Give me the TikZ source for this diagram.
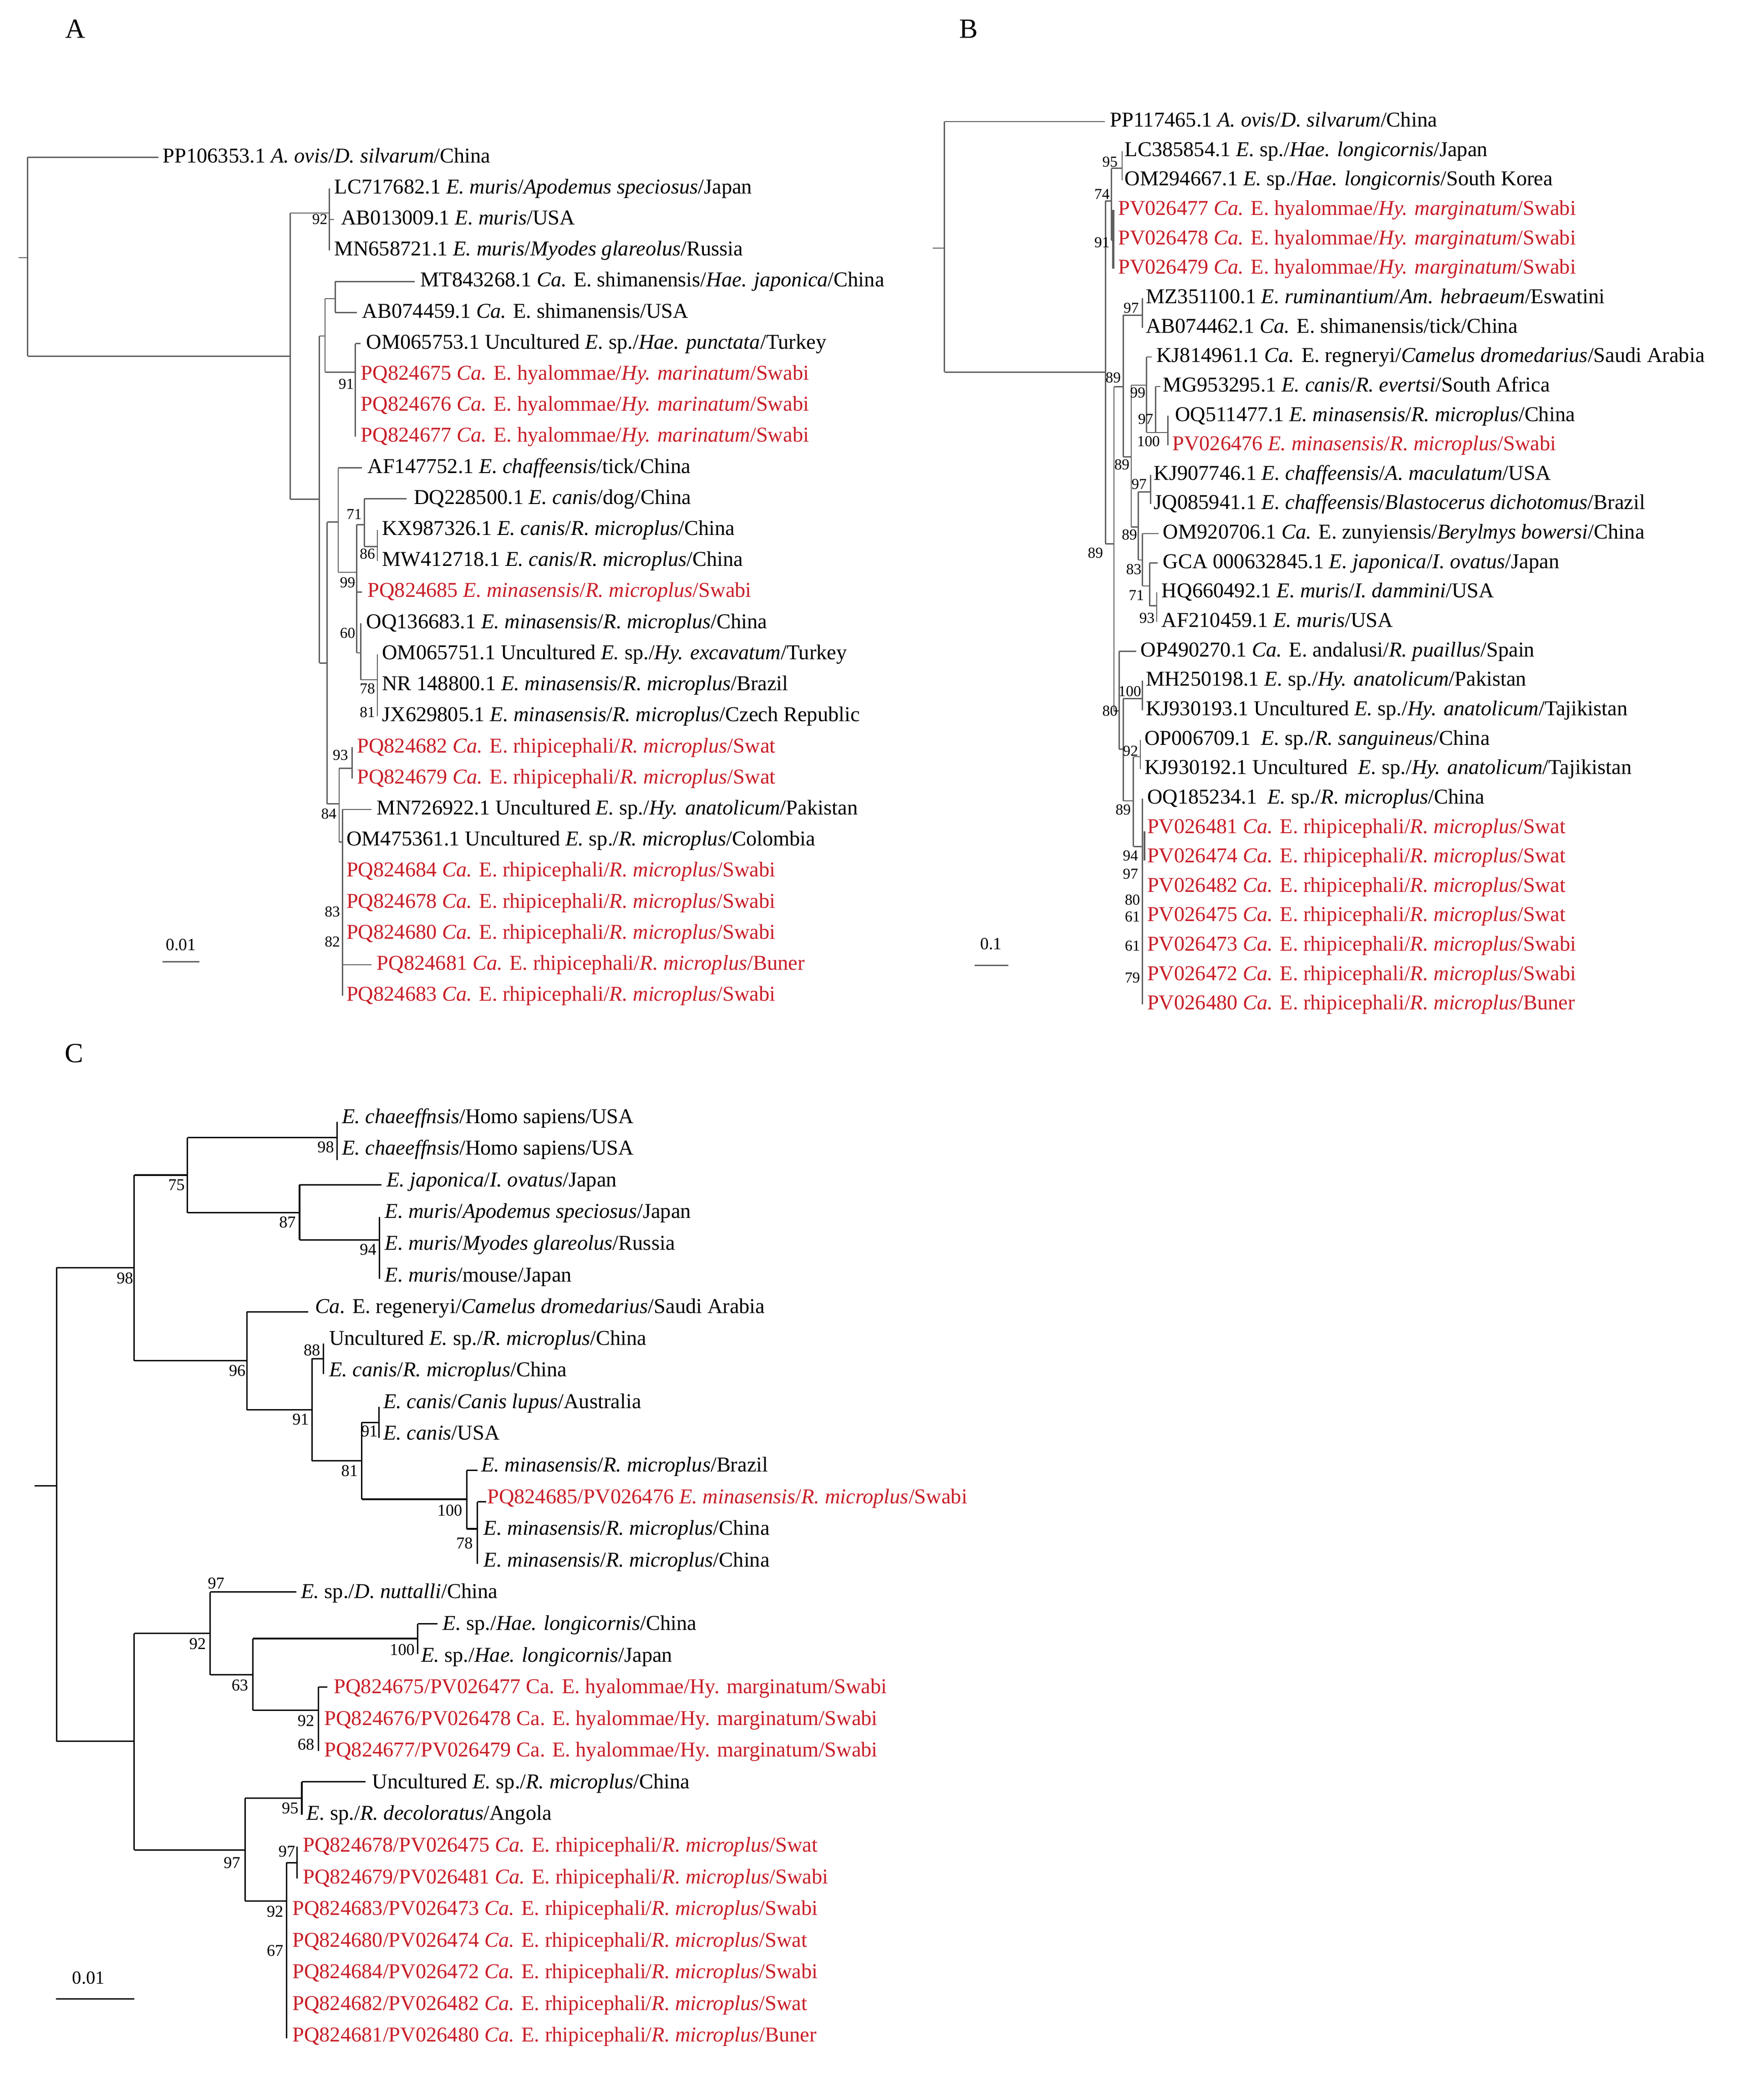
\documentclass[tikz,border=0pt]{standalone}
\usepackage{fontspec}
\setmainfont{Liberation Serif}
\definecolor{rd}{RGB}{200,30,40}
\definecolor{gl}{RGB}{95,95,95}
\newcommand\rA[1]{{119+23.5*#1}}
\newcommand\rB[1]{{92+22.27*#1}}
\newcommand\rC[1]{{846+23.97*#1}}
\newcommand\bsn[4]{\node[bsl] (#1) at (#2,#3) {#4};}
\begin{document}
\begin{tikzpicture}[x=1pt,y=-1pt,
 lab/.style={anchor=west,inner sep=0,text height=11pt,text depth=3pt,font=\fontsize{16}{16}\selectfont},
 red/.style={text=rd},
 bsl/.style={anchor=east,inner sep=0,font=\fontsize{11.5}{12}\selectfont},
 bsc/.style={anchor=east,inner sep=0,font=\fontsize{12.5}{13}\selectfont},
 brA/.style={draw=gl,line width=0.9pt},
 brC/.style={draw=black,line width=1.1pt},
 let/.style={font=\fontsize{21}{21}\selectfont,inner sep=0}]
\useasboundingbox (0,0) rectangle (1335,1571.7);
\fill[white] (0,0) rectangle (1335,1571.7);
% ---------------- Panel A ----------------
\node[let] (LA) at (57,22) {A};
\path[brA] (14,195)--(20.9,195) (20.9,\rA{0})--(20.9,269.5) (20.9,\rA{0})--(120,\rA{0})
 (20.9,269.5)--(219.7,269.5) (219.7,161.2)--(219.7,377.8)
 (219.7,161.2)--(249.3,161.2) (249.3,142.5)--(249.3,189.5) (249.3,166)--(253,166)
 (219.7,377.8)--(241.7,377.8) (241.7,254.2)--(241.7,501.7)
 (241.7,254.2)--(246,254.2) (246,226)--(246,281.6)
 (246,226)--(253.7,226) (253.7,213)--(253.7,236.5) (253.7,213)--(314,213) (253.7,236.5)--(270,236.5)
 (246,281.6)--(269,281.6) (269,260)--(269,330.5) (269,260)--(273,260)
 (241.7,501.7)--(247.6,501.7) (247.6,395)--(247.6,608.3)
 (247.6,395)--(256,395) (256,354)--(256,433) (256,354)--(274,354)
 (256,433)--(270,433) (270,397)--(270,494) (270,448)--(274,448)
 (270,397)--(275.7,397) (275.7,377.5)--(275.7,413.5) (275.7,377.5)--(307.5,377.5)
 (275.7,413.5)--(285.6,413.5) (285.6,401)--(285.6,424.5)
 (270,494)--(273,494) (273,471.5)--(273,514.4)
 (273,514.4)--(285.6,514.4) (285.6,495)--(285.6,542)
 (247.6,608.3)--(256.6,608.3) (256.6,581.3)--(256.6,637.2)
 (256.6,581.3)--(266.5,581.3) (266.5,565.5)--(266.5,589)
 (256.6,637.2)--(259.2,637.2) (259.2,612.5)--(259.2,753.5) (259.2,612.5)--(281,612.5) (259.2,730)--(281,730)
 (123,727.8)--(151,727.8);
\node[lab] (a0) at (123,\rA{0}) {PP106353.1 \textit{A. ovis}/\textit{D. silvarum}/China};
\node[lab] (a1) at (253,\rA{1}) {LC717682.1 \textit{E. muris}/\textit{Apodemus speciosus}/Japan};
\node[lab] (a2) at (258,\rA{2}) {AB013009.1 \textit{E. muris}/USA};
\node[lab] (a3) at (253,\rA{3}) {MN658721.1 \textit{E. muris}/\textit{Myodes glareolus}/Russia};
\node[lab] (a4) at (318,\rA{4}) {MT843268.1 \textit{Ca.} E. shimanensis/\textit{Hae. japonica}/China};
\node[lab] (a5) at (274,\rA{5}) {AB074459.1 \textit{Ca.} E. shimanensis/USA};
\node[lab] (a6) at (277,\rA{6}) {OM065753.1 Uncultured \textit{E.} sp./\textit{Hae. punctata}/Turkey};
\node[lab,red] (a7) at (273,\rA{7}) {PQ824675 \textit{Ca.} E. hyalommae/\textit{Hy. marinatum}/Swabi};
\node[lab,red] (a8) at (273,\rA{8}) {PQ824676 \textit{Ca.} E. hyalommae/\textit{Hy. marinatum}/Swabi};
\node[lab,red] (a9) at (273,\rA{9}) {PQ824677 \textit{Ca.} E. hyalommae/\textit{Hy. marinatum}/Swabi};
\node[lab] (a10) at (278,\rA{10}) {AF147752.1 \textit{E. chaffeensis}/tick/China};
\node[lab] (a11) at (313,\rA{11}) {DQ228500.1 \textit{E. canis}/dog/China};
\node[lab] (a12) at (289,\rA{12}) {KX987326.1 \textit{E. canis}/\textit{R. microplus}/China};
\node[lab] (a13) at (289,\rA{13}) {MW412718.1 \textit{E. canis}/\textit{R. microplus}/China};
\node[lab,red] (a14) at (278,\rA{14}) {PQ824685 \textit{E. minasensis}/\textit{R. microplus}/Swabi};
\node[lab] (a15) at (277,\rA{15}) {OQ136683.1 \textit{E. minasensis}/\textit{R. microplus}/China};
\node[lab] (a16) at (289,\rA{16}) {OM065751.1 Uncultured \textit{E.} sp./\textit{Hy. excavatum}/Turkey};
\node[lab] (a17) at (289,\rA{17}) {NR 148800.1 \textit{E. minasensis}/\textit{R. microplus}/Brazil};
\node[lab] (a18) at (289,\rA{18}) {JX629805.1 \textit{E. minasensis}/\textit{R. microplus}/Czech Republic};
\node[lab,red] (a19) at (270,\rA{19}) {PQ824682 \textit{Ca.} E. rhipicephali/\textit{R. microplus}/Swat};
\node[lab,red] (a20) at (270,\rA{20}) {PQ824679 \textit{Ca.} E. rhipicephali/\textit{R. microplus}/Swat};
\node[lab] (a21) at (285,\rA{21}) {MN726922.1 Uncultured \textit{E.} sp./\textit{Hy. anatolicum}/Pakistan};
\node[lab] (a22) at (262,\rA{22}) {OM475361.1 Uncultured \textit{E.} sp./\textit{R. microplus}/Colombia};
\node[lab,red] (a23) at (262,\rA{23}) {PQ824684 \textit{Ca.} E. rhipicephali/\textit{R. microplus}/Swabi};
\node[lab,red] (a24) at (262,\rA{24}) {PQ824678 \textit{Ca.} E. rhipicephali/\textit{R. microplus}/Swabi};
\node[lab,red] (a25) at (262,\rA{25}) {PQ824680 \textit{Ca.} E. rhipicephali/\textit{R. microplus}/Swabi};
\node[lab,red] (a26) at (285,\rA{26}) {PQ824681 \textit{Ca.} E. rhipicephali/\textit{R. microplus}/Buner};
\node[lab,red] (a27) at (262,\rA{27}) {PQ824683 \textit{Ca.} E. rhipicephali/\textit{R. microplus}/Swabi};
\bsn{ab1}{248}{166}{92} \bsn{ab2}{268}{290.5}{91} \bsn{ab3}{274}{389}{71} \bsn{ab4}{284}{419}{86}
\bsn{ab5}{269}{441}{99} \bsn{ab6}{269}{479}{60} \bsn{ab7}{284}{521}{78} \bsn{ab8}{284}{539}{81}
\bsn{ab9}{263.6}{571.4}{93} \bsn{ab10}{254.8}{616}{84} \bsn{ab11}{257.5}{690}{83} \bsn{ab12}{257.5}{712.6}{82}
\node[bsl,anchor=center,font=\fontsize{13}{13}\selectfont] (asc) at (137,715) {0.01};
% ---------------- Panel B ----------------
\node[let] (LB) at (733,22) {B};
\path[brA] (706,187.7)--(714.7,187.7) (714.7,\rB{0})--(714.7,281.6) (714.7,\rB{0})--(836.1,\rB{0})
 (714.7,281.6)--(836.6,281.6) (836.6,152)--(836.6,411.5)
 (836.6,152)--(841.2,152) (841.2,127.3)--(841.2,182)
 (841.2,127.3)--(849.2,127.3) (849.2,\rB{1})--(849.2,\rB{2})
 (841.2,182)--(842.5,182)
 (836.6,411.5)--(843,411.5) (843,292.7)--(843,538)
 (843,292.7)--(850,292.7) (850,238.5)--(850,345.7)
 (850,238.5)--(864.6,238.5) (864.6,\rB{6})--(864.6,\rB{7})
 (850,345.7)--(856.1,345.7) (856.1,291.5)--(856.1,398.8)
 (856.1,291.5)--(867.7,291.5) (867.7,\rB{8})--(867.7,327.3) (867.7,\rB{8})--(871.5,\rB{8})
 (867.7,327.3)--(874.6,327.3) (874.6,\rB{9})--(874.6,327.3) (874.6,\rB{9})--(878,\rB{9})
 (874.6,327.3)--(883.8,327.3) (883.8,\rB{10})--(883.8,\rB{11})
 (856.1,398.8)--(861.5,398.8) (861.5,372.2)--(861.5,423.8)
 (861.5,372.2)--(870.7,372.2) (870.7,\rB{12})--(870.7,\rB{13})
 (861.5,423.8)--(864.6,423.8) (864.6,\rB{14})--(864.6,443.4) (864.6,\rB{14})--(876.9,\rB{14})
 (864.6,443.4)--(870,443.4) (870,\rB{15})--(870,458.4) (870,\rB{15})--(876.1,\rB{15})
 (870,458.4)--(875.4,458.4) (875.4,\rB{16})--(875.4,\rB{17})
 (843,538)--(846.9,538) (846.9,\rB{18})--(846.9,566.8) (846.9,\rB{18})--(860,\rB{18})
 (846.9,566.8)--(850,566.8) (850,528.7)--(850,606)
 (850,528.7)--(864.6,528.7) (864.6,\rB{19})--(864.6,\rB{20})
 (850,606)--(857.7,606) (857.7,572.6)--(857.7,640.6)
 (857.7,572.6)--(863,572.6) (863,\rB{21})--(863,\rB{22})
 (857.7,640.6)--(864.6,640.6) (864.6,\rB{23})--(864.6,\rB{30})
 (737.7,730.6)--(763.1,730.6);
\path[draw=gl,line width=1.6pt] (842.5,\rB{3})--(842.5,\rB{5}) (866.1,629)--(866.1,651);
\node[lab] (b0) at (840,\rB{0}) {PP117465.1 \textit{A. ovis}/\textit{D. silvarum}/China};
\node[lab] (b1) at (851,\rB{1}) {LC385854.1 \textit{E.} sp./\textit{Hae. longicornis}/Japan};
\node[lab] (b2) at (851,\rB{2}) {OM294667.1 \textit{E.} sp./\textit{Hae. longicornis}/South Korea};
\node[lab,red] (b3) at (846,\rB{3}) {PV026477 \textit{Ca.} E. hyalommae/\textit{Hy. marginatum}/Swabi};
\node[lab,red] (b4) at (846,\rB{4}) {PV026478 \textit{Ca.} E. hyalommae/\textit{Hy. marginatum}/Swabi};
\node[lab,red] (b5) at (846,\rB{5}) {PV026479 \textit{Ca.} E. hyalommae/\textit{Hy. marginatum}/Swabi};
\node[lab] (b6) at (867,\rB{6}) {MZ351100.1 \textit{E. ruminantium}/\textit{Am. hebraeum}/Eswatini};
\node[lab] (b7) at (867,\rB{7}) {AB074462.1 \textit{Ca.} E. shimanensis/tick/China};
\node[lab] (b8) at (875,\rB{8}) {KJ814961.1 \textit{Ca.} E. regneryi/\textit{Camelus dromedarius}/Saudi Arabia};
\node[lab] (b9) at (880,\rB{9}) {MG953295.1 \textit{E. canis}/\textit{R. evertsi}/South Africa};
\node[lab] (b10) at (889,\rB{10}) {OQ511477.1 \textit{E. minasensis}/\textit{R. microplus}/China};
\node[lab,red] (b11) at (887,\rB{11}) {PV026476 \textit{E. minasensis}/\textit{R. microplus}/Swabi};
\node[lab] (b12) at (873,\rB{12}) {KJ907746.1 \textit{E. chaffeensis}/\textit{A. maculatum}/USA};
\node[lab] (b13) at (873,\rB{13}) {JQ085941.1 \textit{E. chaffeensis}/\textit{Blastocerus dichotomus}/Brazil};
\node[lab] (b14) at (880,\rB{14}) {OM920706.1 \textit{Ca.} E. zunyiensis/\textit{Berylmys bowersi}/China};
\node[lab] (b15) at (880,\rB{15}) {GCA 000632845.1 \textit{E. japonica}/\textit{I. ovatus}/Japan};
\node[lab] (b16) at (879,\rB{16}) {HQ660492.1 \textit{E. muris}/\textit{I. dammini}/USA};
\node[lab] (b17) at (879,\rB{17}) {AF210459.1 \textit{E. muris}/USA};
\node[lab] (b18) at (863,\rB{18}) {OP490270.1 \textit{Ca.} E. andalusi/\textit{R. puaillus}/Spain};
\node[lab] (b19) at (867,\rB{19}) {MH250198.1 \textit{E.} sp./\textit{Hy. anatolicum}/Pakistan};
\node[lab] (b20) at (867,\rB{20}) {KJ930193.1 Uncultured \textit{E.} sp./\textit{Hy. anatolicum}/Tajikistan};
\node[lab] (b21) at (866,\rB{21}) {OP006709.1 \ \textit{E.} sp./\textit{R. sanguineus}/China};
\node[lab] (b22) at (866,\rB{22}) {KJ930192.1 Uncultured \ \textit{E.} sp./\textit{Hy. anatolicum}/Tajikistan};
\node[lab] (b23) at (868,\rB{23}) {OQ185234.1 \ \textit{E.} sp./\textit{R. microplus}/China};
\node[lab,red] (b24) at (868,\rB{24}) {PV026481 \textit{Ca.} E. rhipicephali/\textit{R. microplus}/Swat};
\node[lab,red] (b25) at (868,\rB{25}) {PV026474 \textit{Ca.} E. rhipicephali/\textit{R. microplus}/Swat};
\node[lab,red] (b26) at (868,\rB{26}) {PV026482 \textit{Ca.} E. rhipicephali/\textit{R. microplus}/Swat};
\node[lab,red] (b27) at (868,\rB{27}) {PV026475 \textit{Ca.} E. rhipicephali/\textit{R. microplus}/Swat};
\node[lab,red] (b28) at (868,\rB{28}) {PV026473 \textit{Ca.} E. rhipicephali/\textit{R. microplus}/Swabi};
\node[lab,red] (b29) at (868,\rB{29}) {PV026472 \textit{Ca.} E. rhipicephali/\textit{R. microplus}/Swabi};
\node[lab,red] (b30) at (868,\rB{30}) {PV026480 \textit{Ca.} E. rhipicephali/\textit{R. microplus}/Buner};
\bsn{bb1}{846}{122.4}{95} \bsn{bb2}{840}{146.9}{74} \bsn{bb3}{840}{183.5}{91} \bsn{bb4}{848.4}{285.7}{89}
\bsn{bb5}{862}{233}{97} \bsn{bb6}{855}{351.5}{89} \bsn{bb7}{867}{297.3}{99} \bsn{bb8}{873}{317}{97}
\bsn{bb9}{878}{334}{100} \bsn{bb10}{860.7}{404.5}{89} \bsn{bb11}{868}{366.5}{97} \bsn{bb12}{835}{418.4}{89}
\bsn{bb13}{864}{430.7}{83} \bsn{bb14}{866}{450.3}{71} \bsn{bb15}{874}{467.6}{93} \bsn{bb16}{846}{538}{80}
\bsn{bb17}{863.8}{523}{100} \bsn{bb18}{856}{612.9}{89} \bsn{bb19}{861.5}{568.4}{92} \bsn{bb20}{861.5}{647.5}{94}
\bsn{bb21}{861.5}{661.4}{97} \bsn{bb22}{863}{681}{80} \bsn{bb23}{863}{693.7}{61} \bsn{bb24}{863}{715.6}{61}
\bsn{bb25}{863}{739.8}{79}
\node[bsl,anchor=center,font=\fontsize{13}{13}\selectfont] (bsc0) at (750,714.4) {0.1};
% ---------------- Panel C ----------------
\node[let] (LC) at (56,797) {C};
\path[brC] (26.1,1124.3)--(42.8,1124.3) (42.8,959.2)--(42.8,1317.7)
 (42.8,959.2)--(101.5,959.2) (101.5,889.2)--(101.5,1029.6)
 (101.5,889.2)--(141.9,889.2) (141.9,860.9)--(141.9,917.7)
 (141.9,860.9)--(255,860.9) (255,848.8)--(255,877.8)
 (141.9,917.7)--(226.7,917.7) (226.7,896.6)--(226.7,938.2) (226.7,896.6)--(288.8,896.6)
 (226.7,938.2)--(287.1,938.2) (287.1,920.8)--(287.1,967.7)
 (101.5,1029.6)--(186.8,1029.6) (186.8,992.6)--(186.8,1066.8) (186.8,992.6)--(233.2,992.6)
 (186.8,1066.8)--(236.1,1066.8) (236.1,1028.1)--(236.1,1105.4)
 (236.1,1028.1)--(244.8,1028.1) (244.8,1016.8)--(244.8,1039.7)
 (236.1,1105.4)--(273.8,1105.4) (273.8,1076.4)--(273.8,1134.5)
 (273.8,1076.4)--(286.9,1076.4) (286.9,1064.4)--(286.9,1088.1)
 (273.8,1134.5)--(353.3,1134.5) (353.3,1112.7)--(353.3,1156.9) (353.3,1112.7)--(361.3,1112.7)
 (353.3,1156.9)--(361.3,1156.9) (361.3,1136.4)--(361.3,1183.5) (361.3,1136.4)--(368,1136.4)
 (42.8,1317.7)--(101.5,1317.7) (101.5,1236)--(101.5,1399.9)
 (101.5,1236)--(159,1236) (159,1204.6)--(159,1267.4) (159,1204.6)--(224.3,1204.6)
 (159,1267.4)--(191.4,1267.4) (191.4,1239.9)--(191.4,1294.2)
 (191.4,1239.9)--(316.1,1239.9) (316.1,1228.8)--(316.1,1251.7) (316.1,1228.8)--(331,1228.8)
 (191.4,1294.2)--(241,1294.2) (241,1276.6)--(241,1325) (241,1276.6)--(247.7,1276.6)
 (101.5,1399.9)--(185.4,1399.9) (185.4,1360.7)--(185.4,1438.5)
 (185.4,1360.7)--(228.4,1360.7) (228.4,1348.4)--(228.4,1373.3) (228.4,1348.4)--(276.7,1348.4)
 (185.4,1438.5)--(216.8,1438.5) (216.8,1409.5)--(216.8,1542.4)
 (216.8,1409.5)--(224.7,1409.5) (224.7,1397.4)--(224.7,1421.6)
 (42.3,1512.7)--(101.5,1512.7);
\node[lab] (c0) at (258.6,\rC{0}) {\textit{E. chaeeffnsis}/Homo sapiens/USA};
\node[lab] (c1) at (258.6,\rC{1}) {\textit{E. chaeeffnsis}/Homo sapiens/USA};
\node[lab] (c2) at (292.4,\rC{2}) {\textit{E. japonica}/\textit{I. ovatus}/Japan};
\node[lab] (c3) at (291.2,\rC{3}) {\textit{E. muris}/\textit{Apodemus speciosus}/Japan};
\node[lab] (c4) at (291.2,\rC{4}) {\textit{E. muris}/\textit{Myodes glareolus}/Russia};
\node[lab] (c5) at (291.2,\rC{5}) {\textit{E. muris}/mouse/Japan};
\node[lab] (c6) at (238.5,\rC{6}) {\textit{Ca.} E. regeneryi/\textit{Camelus dromedarius}/Saudi Arabia};
\node[lab] (c7) at (248.9,\rC{7}) {Uncultured \textit{E.} sp./\textit{R. microplus}/China};
\node[lab] (c8) at (248.9,\rC{8}) {\textit{E. canis}/\textit{R. microplus}/China};
\node[lab] (c9) at (290,\rC{9}) {\textit{E. canis}/\textit{Canis lupus}/Australia};
\node[lab] (c10) at (290,\rC{10}) {\textit{E. canis}/USA};
\node[lab] (c11) at (364,\rC{11}) {\textit{E. minasensis}/\textit{R. microplus}/Brazil};
\node[lab,red] (c12) at (368.5,\rC{12}) {PQ824685/PV026476 \textit{E. minasensis}/\textit{R. microplus}/Swabi};
\node[lab] (c13) at (366,\rC{13}) {\textit{E. minasensis}/\textit{R. microplus}/China};
\node[lab] (c14) at (366,\rC{14}) {\textit{E. minasensis}/\textit{R. microplus}/China};
\node[lab] (c15) at (227.6,\rC{15}) {\textit{E.} sp./\textit{D. nuttalli}/China};
\node[lab] (c16) at (335,\rC{16}) {\textit{E.} sp./\textit{Hae. longicornis}/China};
\node[lab] (c17) at (318.5,\rC{17}) {\textit{E.} sp./\textit{Hae. longicornis}/Japan};
\node[lab,red] (c18) at (252.5,\rC{18}) {PQ824675/PV026477 Ca. E. hyalommae/Hy. marginatum/Swabi};
\node[lab,red] (c19) at (245.3,\rC{19}) {PQ824676/PV026478 Ca. E. hyalommae/Hy. marginatum/Swabi};
\node[lab,red] (c20) at (245.3,\rC{20}) {PQ824677/PV026479 Ca. E. hyalommae/Hy. marginatum/Swabi};
\node[lab] (c21) at (281.5,\rC{21}) {Uncultured \textit{E.} sp./\textit{R. microplus}/China};
\node[lab] (c22) at (232,\rC{22}) {\textit{E.} sp./\textit{R. decoloratus}/Angola};
\node[lab,red] (c23) at (229,\rC{23}) {PQ824678/PV026475 \textit{Ca.} E. rhipicephali/\textit{R. microplus}/Swat};
\node[lab,red] (c24) at (229,\rC{24}) {PQ824679/PV026481 \textit{Ca.} E. rhipicephali/\textit{R. microplus}/Swabi};
\node[lab,red] (c25) at (221.1,\rC{25}) {PQ824683/PV026473 \textit{Ca.} E. rhipicephali/\textit{R. microplus}/Swabi};
\node[lab,red] (c26) at (221.1,\rC{26}) {PQ824680/PV026474 \textit{Ca.} E. rhipicephali/\textit{R. microplus}/Swat};
\node[lab,red] (c27) at (221.1,\rC{27}) {PQ824684/PV026472 \textit{Ca.} E. rhipicephali/\textit{R. microplus}/Swabi};
\node[lab,red] (c28) at (221.1,\rC{28}) {PQ824682/PV026482 \textit{Ca.} E. rhipicephali/\textit{R. microplus}/Swat};
\node[lab,red] (c29) at (221.1,\rC{29}) {PQ824681/PV026480 \textit{Ca.} E. rhipicephali/\textit{R. microplus}/Buner};
\begin{scope}[every node/.style={bsc}]
\node (cb1) at (253,868.1) {98}; \node (cb2) at (140,896.6) {75}; \node (cb3) at (101,967.2) {98};
\node (cb4) at (224,925) {87}; \node (cb5) at (285,945.5) {94}; \node (cb6) at (186,1037.3) {96};
\node (cb7) at (242.5,1021.6) {88}; \node (cb8) at (234,1074) {91}; \node (cb9) at (286,1083.2) {91};
\node (cb10) at (271,1113) {81}; \node (cb11) at (350,1143) {100}; \node (cb12) at (358,1167.8) {78};
\node (cb13) at (170,1198) {97}; \node (cb14) at (156,1244) {92}; \node (cb15) at (188,1275.4) {63};
\node (cb16) at (314,1248.3) {100}; \node (cb17) at (238,1302) {92}; \node (cb18) at (238,1320) {68};
\node (cb19) at (226,1368.4) {95}; \node (cb20) at (182,1409.5) {97}; \node (cb21) at (223.5,1401) {97};
\node (cb22) at (214.6,1446.5) {92}; \node (cb23) at (214.6,1476) {67};
\end{scope}
\node[bsl,anchor=center,font=\fontsize{14}{14}\selectfont] (csc) at (67,1496.5) {0.01};
\end{tikzpicture}
\end{document}
